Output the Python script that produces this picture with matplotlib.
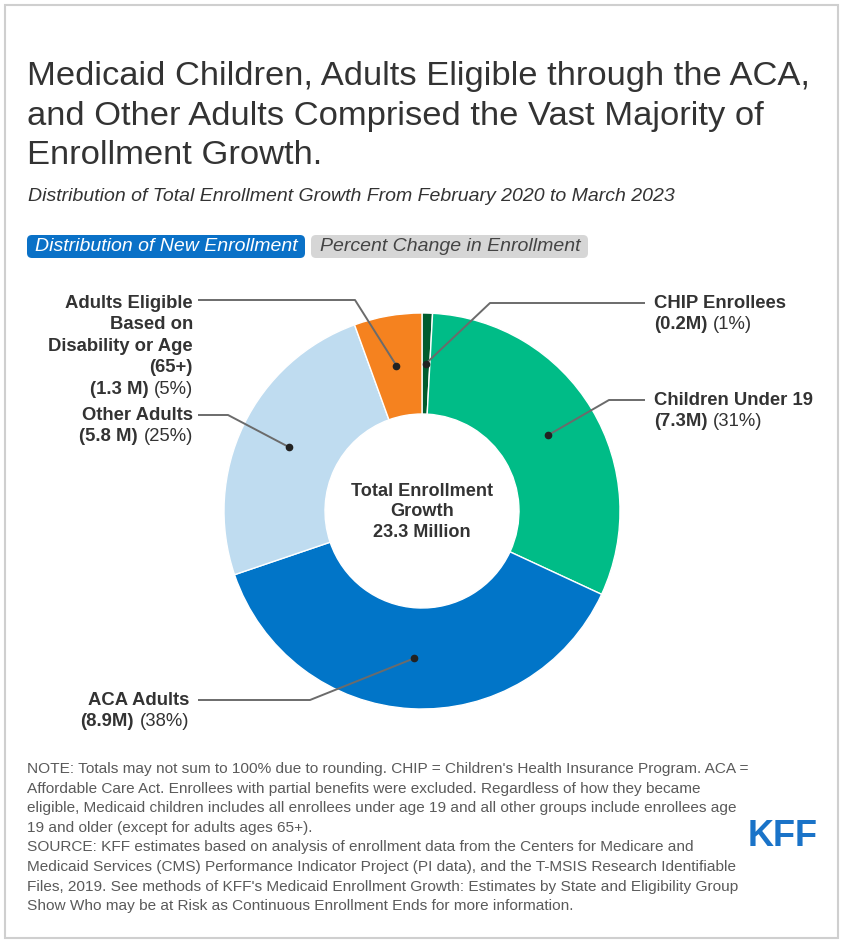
import matplotlib
matplotlib.use("Agg")
import matplotlib.pyplot as plt
from matplotlib.patches import FancyBboxPatch, Rectangle
import numpy as np

plt.rcParams['font.family'] = ['Liberation Sans', 'DejaVu Sans']

# ---- data ----
groups = ["CHIP Enrollees", "Children Under 19", "ACA Adults", "Other Adults",
          "Adults Eligible Based on Disability or Age (65+)"]
values_m = [0.2, 7.3, 8.9, 5.8, 1.3]
amount_labels = ["(0.2M)", "(7.3M)", "(8.9M)", "(5.8 M)", "(1.3 M)"]
pct_labels = ["(1%)", "(31%)", "(38%)", "(25%)", "(5%)"]
colors = ["#005c2e", "#00bc87", "#0175c8", "#bfdcf0", "#f5821f"]
total_text = ["Total Enrollment", "Growth", "23.3 Million"]

W, H = 844, 946
fig = plt.figure(figsize=(W / 100, H / 100), dpi=100)

# pie geometry (pixels)
cx, cy, R, r = 422, 511, 198, 97

pie_ax = fig.add_axes([(cx - R) / W, (H - cy - R) / H, 2 * R / W, 2 * R / H])
wedges, _ = pie_ax.pie(values_m, colors=colors, startangle=90, counterclock=False,
                       radius=1, wedgeprops=dict(width=1 - r / R, edgecolor="white", linewidth=1))
pie_ax.set_xlim(-1, 1)
pie_ax.set_ylim(-1, 1)
pie_ax.set_aspect("equal")
pie_ax.axis("off")

ov = fig.add_axes([0, 0, 1, 1])
ov.set_xlim(0, W)
ov.set_ylim(H, 0)
ov.axis("off")
ov.patch.set_alpha(0)

# border
ov.add_patch(Rectangle((4.5, 5.5), 833, 932, fill=False, edgecolor="#cfcfcf", lw=1.5))

# title
title_lines = ["Medicaid Children, Adults Eligible through the ACA,",
               "and Other Adults Comprised the Vast Majority of",
               "Enrollment Growth."]
for i, t in enumerate(title_lines):
    ov.text(27, 76 + 40 * i, t, fontsize=24.8, color="#333333", ha="left", va="center")
ov.text(28, 196, "Distribution of Total Enrollment Growth From February 2020 to March 2023",
        fontsize=14, style="italic", color="#333333", ha="left", va="center")

# tabs
ov.add_patch(FancyBboxPatch((27, 235), 278, 23, boxstyle="round,pad=0,rounding_size=5",
                            facecolor="#0a71c7", edgecolor="none"))
ov.text(35, 246.5, "Distribution of New Enrollment", fontsize=14, style="italic",
        color="white", ha="left", va="center")
ov.add_patch(FancyBboxPatch((311, 235), 277, 23, boxstyle="round,pad=0,rounding_size=5",
                            facecolor="#d6d6d6", edgecolor="none"))
ov.text(320, 246.5, "Percent Change in Enrollment", fontsize=14, style="italic",
        color="#444444", ha="left", va="center")

# center text
for i, t in enumerate(total_text):
    ov.text(cx, 491 + 20.5 * i, t, fontsize=13.1, weight="bold", color="#333333",
            ha="center", va="center")

# dots at wedge mid-angles
rm = (R + r) / 2
dots = []
for w in wedges:
    a = np.deg2rad((w.theta1 + w.theta2) / 2)
    dots.append((cx + rm * np.cos(a), cy - rm * np.sin(a)))

lc = "#6b6b6b"
LFS = 13.3
TC = "#333333"

def label_right(x, ys, name_lines, amt, pct):
    for j, t in enumerate(name_lines):
        ov.text(x, ys + 21.5 * j, t, fontsize=LFS, weight="bold", color=TC, ha="right", va="center")
    yl = ys + 21.5 * len(name_lines)
    tp = ov.text(x, yl, pct, fontsize=LFS, color=TC, ha="right", va="center")
    ov.annotate(amt, xy=(0, 0.5), xycoords=tp, xytext=(-4, 0), textcoords="offset points",
                fontsize=LFS, weight="bold", color=TC, ha="right", va="center")

def label_left(x, ys, name_lines, amt, pct):
    for j, t in enumerate(name_lines):
        ov.text(x, ys + 21.5 * j, t, fontsize=LFS, weight="bold", color=TC, ha="left", va="center")
    yl = ys + 21.5 * len(name_lines)
    ta = ov.text(x, yl, amt, fontsize=LFS, weight="bold", color=TC, ha="left", va="center")
    ov.annotate(pct, xy=(1, 0.5), xycoords=ta, xytext=(4, 0), textcoords="offset points",
                fontsize=LFS, color=TC, ha="left", va="center")

def leader(pts, dot):
    xs = [p[0] for p in pts] + [dot[0]]
    ys = [p[1] for p in pts] + [dot[1]]
    ov.plot(xs, ys, color=lc, lw=1.4, solid_capstyle="butt")
    ov.plot(dot[0], dot[1], "o", color="#222222", ms=4.5)

# CHIP
leader([(645, 303), (490, 303)], dots[0])
label_left(654, 303, ["CHIP Enrollees"], amount_labels[0], pct_labels[0])
# Children
leader([(645, 400), (609, 400)], dots[1])
label_left(654, 400, ["Children Under 19"], amount_labels[1], pct_labels[1])
# ACA
leader([(198, 700), (310, 700)], dots[2])
label_right(189, 700, ["ACA Adults"], amount_labels[2], pct_labels[2])
# Other adults
leader([(198, 415), (228, 415)], dots[3])
label_right(193, 415, ["Other Adults"], amount_labels[3], pct_labels[3])
# Disability / age
leader([(198, 300), (355, 300)], dots[4])
label_right(193, 303, ["Adults Eligible", "Based on", "Disability or Age", "(65+)"],
            amount_labels[4], pct_labels[4])

# notes
notes = [
    "NOTE: Totals may not sum to 100% due to rounding. CHIP = Children's Health Insurance Program. ACA =",
    "Affordable Care Act. Enrollees with partial benefits were excluded. Regardless of how they became",
    "eligible, Medicaid children includes all enrollees under age 19 and all other groups include enrollees age",
    "19 and older (except for adults ages 65+).",
    "SOURCE: KFF estimates based on analysis of enrollment data from the Centers for Medicare and",
    "Medicaid Services (CMS) Performance Indicator Project (PI data), and the T-MSIS Research Identifiable",
    "Files, 2019. See methods of KFF's Medicaid Enrollment Growth: Estimates by State and Eligibility Group",
    "Show Who may be at Risk as Continuous Enrollment Ends for more information.",
]
for i, t in enumerate(notes):
    ov.text(27, 769 + 19.6 * i, t, fontsize=11.05, color="#5a5a5a", ha="left", va="center")

ov.text(783, 836, "KFF", fontsize=26, weight="bold", color="#1a73c8", ha="center", va="center")

fig.savefig("out.png", dpi=100)
